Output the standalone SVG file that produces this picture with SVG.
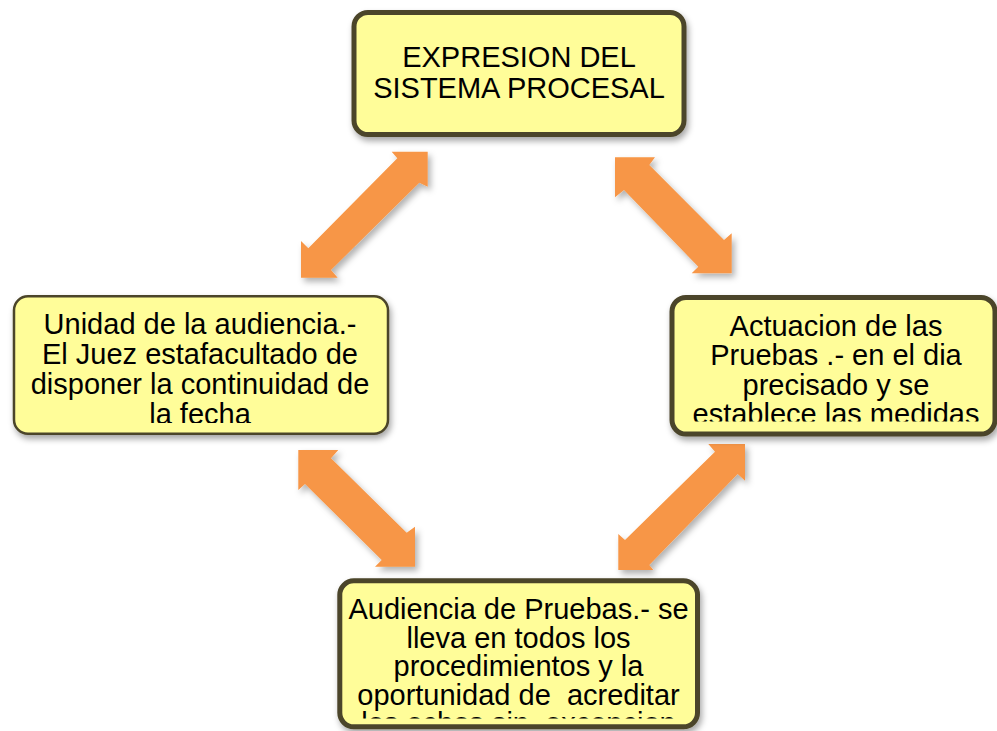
<svg xmlns="http://www.w3.org/2000/svg" width="997" height="731" viewBox="0 0 997 731">
<style>
.box{fill:#FFFD99;stroke:#4B4529;stroke-width:5}
.thin{stroke-width:2.5}
.t{font-family:"Liberation Sans",Arial,sans-serif;font-size:29px;fill:#000;text-anchor:middle}
.arr{fill:#F79646}
</style>
<defs>
<filter id="sh" x="-20%" y="-20%" width="140%" height="150%">
<feDropShadow dx="2" dy="4" stdDeviation="3" flood-color="#000" flood-opacity="0.35"/>
</filter>
<filter id="ash" x="-20%" y="-20%" width="140%" height="140%">
<feDropShadow dx="3" dy="4" stdDeviation="3" flood-color="#000" flood-opacity="0.3"/>
</filter>
<clipPath id="cTop"><rect x="354" y="12" width="330" height="123"/></clipPath>
<clipPath id="cLeft"><rect x="14" y="296" width="374" height="127"/></clipPath>
<clipPath id="cRight"><rect x="672" y="297" width="323" height="124.5"/></clipPath>
<clipPath id="cBottom"><rect x="340" y="581" width="358" height="137.5"/></clipPath>
</defs>
<rect width="997" height="731" fill="#fff"/>

<g id="connectors">
<polygon class="arr" filter="url(#ash)" points="427.7,151.7 427.7,186.7 419.3,182.7 331,270 337.7,277.7 301,277.7 301,241 308.3,248.3 397.3,158.3 391.7,151.7"/>
<polygon class="arr" filter="url(#ash)" points="615,157.3 655,157.3 649.3,165 724,240 731.7,233.3 731.7,273.3 691.7,273.3 698.3,266.7 624,190 615,197.3"/>
<polygon class="arr" filter="url(#ash)" points="298.3,450 338.3,450 331,458.3 406.7,532.7 415,526.7 415,566.7 375,566.7 381.7,560 305,484 298.3,490"/>
<polygon class="arr" filter="url(#ash)" points="745,444 745,480.7 737.7,474 649.3,565 653.3,570 618.3,570 618.3,534 625,540 715,451.7 708.3,444"/>
</g>

<g id="node-top">
<rect class="box" filter="url(#sh)" x="354" y="12.5" width="330" height="122" rx="14"/>
<g clip-path="url(#cTop)">
<text class="t" x="519" y="67">EXPRESION DEL</text>
<text class="t" x="519" y="98">SISTEMA PROCESAL</text>
</g>
</g>

<g id="node-left">
<rect class="box thin" filter="url(#sh)" x="14" y="296.3" width="374" height="137.5" rx="14"/>
<g clip-path="url(#cLeft)">
<text class="t" x="200" y="334">Unidad de la audiencia.-</text>
<text class="t" x="200" y="364">El Juez estafacultado de</text>
<text class="t" x="200" y="394">disponer la continuidad de</text>
<text class="t" x="200" y="424">la fecha</text>
</g>
</g>

<g id="node-right">
<rect class="box" filter="url(#sh)" x="672" y="297.5" width="323" height="136.5" rx="14"/>
<g clip-path="url(#cRight)">
<text class="t" x="836" y="336">Actuacion de las</text>
<text class="t" x="836" y="365.3">Pruebas .- en el dia</text>
<text class="t" x="836" y="394.7">precisado y se</text>
<text class="t" x="836" y="424">establece las medidas</text>
</g>
</g>

<g id="node-bottom">
<rect class="box" filter="url(#sh)" x="339.8" y="580.8" width="357.7" height="146" rx="14"/>
<g clip-path="url(#cBottom)">
<text class="t" x="518.5" y="619">Audiencia de Pruebas.- se</text>
<text class="t" x="518.5" y="647.5">lleva en todos los</text>
<text class="t" x="518.5" y="676">procedimientos y la</text>
<text class="t" x="518.5" y="704.5" xml:space="preserve">oportunidad de  acreditar</text>
<text class="t" x="518.5" y="733" xml:space="preserve">los echos sin  excepcion</text>
</g>
</g>
</svg>
